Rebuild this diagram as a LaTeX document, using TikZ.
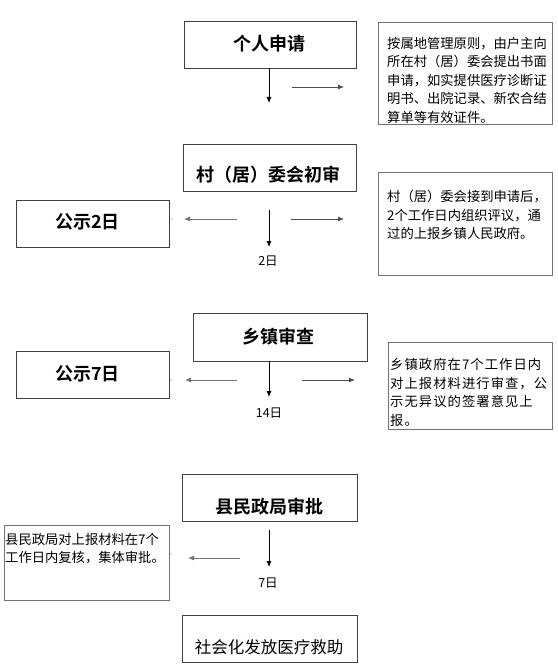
\documentclass[tikz,border=0pt]{standalone}
\usepackage{fontspec}
\setmainfont{Noto Sans CJK SC}[BoldFont={Noto Sans CJK SC Bold}]
\usetikzlibrary{arrows.meta}

\begin{document}
\begin{tikzpicture}[x=1pt,y=-1pt,
    stepbox/.style={draw=black!75,line width=0.9pt,minimum height=47pt,inner sep=0pt},
    notebox/.style={draw=black!55,line width=0.9pt,inner sep=0pt},
    title/.style={inner sep=0pt,font=\fontsize{18}{18}\selectfont\bfseries},
    note/.style={anchor=north west,align=left,inner sep=0pt,font=\fontsize{13.3}{18.5}\selectfont},
    days/.style={inner sep=0pt,font=\fontsize{12.5}{12.5}\selectfont},
    flow/.style={-{Latex[length=6pt,width=5pt]},line width=0.8pt}]

\useasboundingbox (0,0) rectangle (557,668);

% main steps
\node[stepbox,minimum width=172pt] (apply) at (270,44.5) {};
\node[title] (applyt) at (269,44) {个人申请};
\node[stepbox,minimum width=173pt] (village) at (269.5,167.5) {};
\node[title] (villaget) at (268.5,175) {村（居）委会初审};
\node[stepbox,minimum width=174pt,minimum height=48pt] (town) at (280,337) {};
\node[title] (townt) at (278.5,337) {乡镇审查};
\node[stepbox,minimum width=175pt] (county) at (269.5,497.5) {};
\node[title] (countyt) at (269,507) {县民政局审批};
\node[stepbox,minimum width=175pt] (aid) at (269.5,638.5) {};
\node[inner sep=0pt,font=\fontsize{16.5}{16.5}\selectfont] (aidt) at (269,647) {社会化发放医疗救助};

% publicity
\node[stepbox,minimum width=153pt] (pub2) at (92.5,223.5) {};
\node[title] (pub2t) at (87.5,222) {公示2日};
\node[stepbox,minimum width=153pt] (pub7) at (92.5,374.5) {};
\node[title] (pub7t) at (87.5,374) {公示7日};

% notes
\node[notebox,minimum width=174pt,minimum height=102pt] (rule1) at (465,73) {};
\node[note] (rule1t) at (387,37) {按属地管理原则，由户主向\\所在村（居）委会提出书面\\申请，如实提供医疗诊断证\\明书、出院记录、新农合结\\算单等有效证件。};
\node[notebox,minimum width=174pt,minimum height=103pt] (rule2) at (465,223.5) {};
\node[note] (rule2t) at (387,190) {村（居）委会接到申请后，\\2个工作日内组织评议，通\\过的上报乡镇人民政府。};
\node[notebox,minimum width=164pt,minimum height=87pt] (rule3) at (470,385.5) {};
\node[note,font=\fontsize{13.3}{18.5}\selectfont\addfontfeature{LetterSpace=8}] (rule3t) at (390,358) {乡镇政府在7个工作日内\\对上报材料进行审查，公\\示无异议的签署意见上\\报。};
\node[notebox,minimum width=165pt,minimum height=75pt] (rule4) at (86.5,562.5) {};
\node[note] (rule4t) at (5,533) {县民政局对上报材料在7个\\工作日内复核，集体审批。};

% arrow ends
\coordinate (a1) at (269,103);
\coordinate (r1s) at (292,87);   \coordinate (r1e) at (344,87);
\coordinate (d2s) at (269,210);  \coordinate (d2e) at (269,247);
\coordinate (l2s) at (237,219);  \coordinate (l2e) at (184,219);
\coordinate (r2s) at (291,219);  \coordinate (r2e) at (344,219);
\coordinate (d3s) at (269,361);  \coordinate (d3e) at (269,397);
\coordinate (l3s) at (237,380);  \coordinate (l3e) at (185,380);
\coordinate (r3s) at (302,380);  \coordinate (r3e) at (355,380);
\coordinate (d4s) at (269,530);  \coordinate (d4e) at (269,567);
\coordinate (l4s) at (240,558);  \coordinate (l4e) at (188,558);

\draw[flow] (apply.south -| a1) -- (a1);
\draw[flow,black!70] (r1s) -- (r1e);

\draw[flow] (d2s) -- (d2e);
\draw[flow,black!55] (l2s) -- (l2e);
\draw[flow,black!70] (r2s) -- (r2e);
\node[days] (day2) at (268,261) {2日};

\draw[flow] (d3s) -- (d3e);
\draw[flow,black!55] (l3s) -- (l3e);
\draw[flow,black!70] (r3s) -- (r3e);
\node[days] (day14) at (269,413) {14日};

\draw[flow] (d4s) -- (d4e);
\draw[flow,black!55] (l4s) -- (l4e);
\node[days] (day7) at (268,583) {7日};

\foreach \x/\y in {172/219,171/380,171/554}
    \fill[black!60] (\x,\y) circle (0.6pt);

\end{tikzpicture}
\end{document}
